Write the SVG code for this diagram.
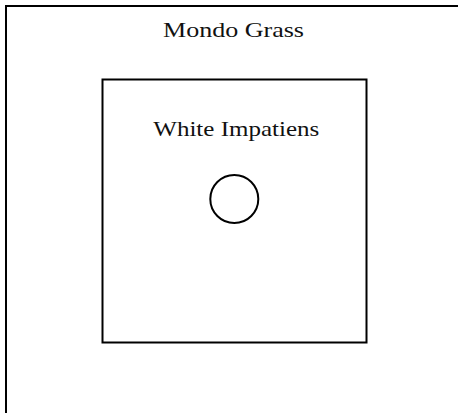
<svg xmlns="http://www.w3.org/2000/svg" width="458" height="413" viewBox="0 0 458 413">
<style>
.ln{fill:none;stroke:#000;stroke-width:2}
.lbl{font-family:"Liberation Serif","Times New Roman",serif;font-size:22px;fill:#111;text-anchor:middle}
</style>
<rect width="458" height="413" fill="#fff"/>
<g id="mondo-grass">
<path class="ln" d="M6,413 V6 H458"/>
<text class="lbl" x="233.5" y="37" textLength="141" lengthAdjust="spacingAndGlyphs">Mondo Grass</text>
</g>
<g id="white-impatiens">
<rect class="ln" x="102.5" y="79.5" width="264" height="263"/>
<text class="lbl" x="236.3" y="135.7" textLength="166" lengthAdjust="spacingAndGlyphs">White Impatiens</text>
</g>
<g id="plant">
<circle class="ln" cx="234.3" cy="199" r="24"/>
</g>
<g id="connectors"/>
</svg>
